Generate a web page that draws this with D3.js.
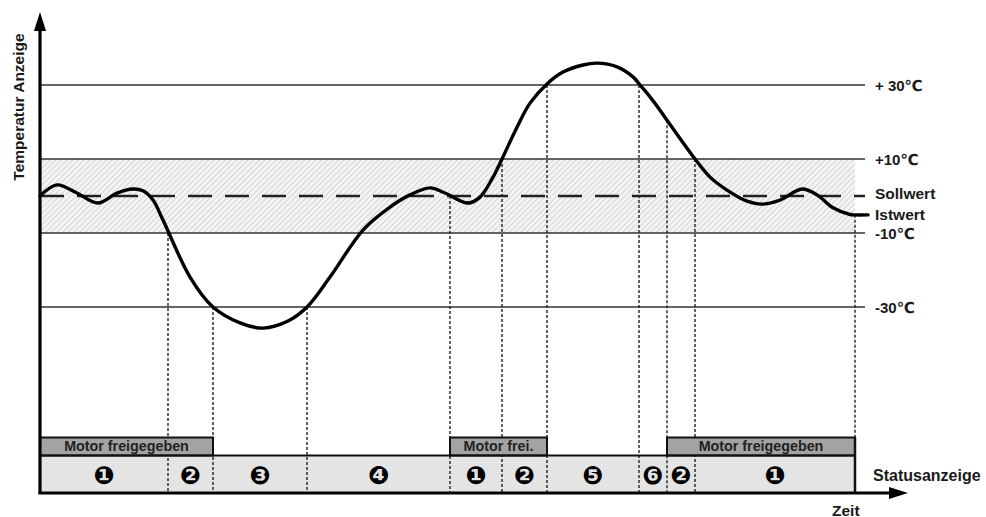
<!DOCTYPE html>
<html><head><meta charset="utf-8">
<script src="https://cdn.jsdelivr.net/npm/d3@7"></script>
<style>
html,body{margin:0;padding:0;background:#fff;}
text{font-family:"Liberation Sans",Arial,"DejaVu Sans",sans-serif;font-weight:bold;fill:#1a1a1a;}
</style></head>
<body><svg id="c" width="986" height="517"></svg>
<script>
// ---- data ----
// time in arbitrary units (0..163), temperature relative to setpoint in °C
const curveTime = [0, 3.4, 7.4, 11.6, 15.4, 18.6, 20.6, 22.6, 24.6, 30, 34.6, 40, 44.6, 49.6, 53.4, 58, 64.6, 70, 74, 78, 81, 85.6, 88, 90.6, 92.4, 95.4, 98, 101.4, 104.6, 108.6, 111.4, 115.4, 118.6, 120, 122, 124, 125.4, 131, 134, 137.4, 141.4, 144.4, 148, 152.4, 155.4, 158.6, 162, 163, 165.6];
const curveTemp = [0, 3.0, 0.8, -1.9, 0.8, 1.9, 1.4, -1.1, -6.5, -21.9, -30, -34.3, -35.7, -33.8, -30, -21.9, -9.2, -3.0, 0.3, 2.2, 0.8, -1.9, -0.3, 5.1, 10, 18.6, 25.1, 30.3, 33.5, 35.4, 35.9, 34.9, 32.2, 30, 26.8, 23.2, 20.5, 10, 5.1, 1.6, -1.4, -2.2, -1.1, 1.9, 0.3, -3.2, -5.0, -5.1, -5.1];
const levelValues = [30, 10, -10, -30];
const levelLabels = ["+ 30℃", "+10℃", "-10℃", "-30℃"];
const setpointLabel = "Sollwert";
const actualLabel = "Istwert";
const bandRange = [10, -10];
// phase boundaries (time) and the temperature where each boundary line starts
const boundaryTime = [25.6, 34.6, 53.4, 82, 92.4, 101.4, 119.8, 125.4, 131, 163];
const boundaryTemp = [-10, -30, -30, 0, 10, 30, 30, 20.5, 10, -5.1];
const phaseStart = [0, 25.6, 34.6, 53.4, 82, 92.4, 101.4, 119.8, 125.4, 131];
const phaseEnd = [25.6, 34.6, 53.4, 82, 92.4, 101.4, 119.8, 125.4, 131, 163];
const phaseLabels = ["❶", "❷", "❸", "❹", "❶", "❷", "❺", "❻", "❷", "❶"];
const motorStart = [0, 82, 125.4];
const motorEnd = [34.6, 101.4, 163];
const motorLabels = ["Motor freigegeben", "Motor frei.", "Motor freigegeben"];
const yAxisTitle = "Temperatur Anzeige";
const xAxisTitle = "Zeit";
const statusTitle = "Statusanzeige";

// ---- layout ----
const svg = d3.select("#c");
const x = d3.scaleLinear().domain([0, 163]).range([40, 855]);
const y = d3.scaleLinear().domain([-30, 30]).range([307, 85]);
const lineEnd = 865;
const motorTop = 437.5, motorBot = 455.5, statusBot = 492.5;

const defs = svg.append("defs");
const pat = defs.append("pattern").attr("id", "hatch").attr("patternUnits", "userSpaceOnUse")
  .attr("width", 4).attr("height", 4).attr("patternTransform", "rotate(45)");
pat.append("rect").attr("width", 4).attr("height", 4).attr("fill", "#f4f4f4");
pat.append("line").attr("x1", 0).attr("y1", 0).attr("x2", 0).attr("y2", 4)
  .attr("stroke", "#c4c4c4").attr("stroke-width", 1.3);

// hatched band
svg.append("rect").attr("x", x(0)).attr("y", y(bandRange[0]))
  .attr("width", x(163) - x(0)).attr("height", y(bandRange[1]) - y(bandRange[0]))
  .attr("fill", "url(#hatch)");

// level lines
svg.selectAll(".lvl").data(levelValues).enter().append("line")
  .attr("x1", x(0)).attr("x2", lineEnd).attr("y1", d => y(d)).attr("y2", d => y(d))
  .attr("stroke", "#333").attr("stroke-width", 1.6);

// setpoint dashed
svg.append("line").attr("x1", x(0)).attr("x2", lineEnd).attr("y1", y(0)).attr("y2", y(0))
  .attr("stroke", "#222").attr("stroke-width", 2.6).attr("stroke-dasharray", "24,13");

// status row
svg.append("rect").attr("x", x(0)).attr("y", motorBot).attr("width", x(163) - x(0))
  .attr("height", statusBot - motorBot).attr("fill", "#e4e4e4");

// boundary dotted lines
svg.selectAll(".bd").data(boundaryTime).enter().append("line")
  .attr("x1", d => x(d)).attr("x2", d => x(d))
  .attr("y1", (d, i) => y(boundaryTemp[i])).attr("y2", statusBot)
  .attr("stroke", "#222").attr("stroke-width", 1.4).attr("stroke-dasharray", "3,2");

// motor bars
svg.selectAll(".mb").data(motorStart).enter().append("rect")
  .attr("x", d => x(d)).attr("y", motorTop)
  .attr("width", (d, i) => x(motorEnd[i]) - x(d)).attr("height", motorBot - motorTop)
  .attr("fill", "#a3a3a3").attr("stroke", "#111").attr("stroke-width", 2);
svg.selectAll(".mt").data(motorLabels).enter().append("text")
  .attr("x", (d, i) => (x(motorStart[i]) + x(motorEnd[i])) / 2).attr("y", (motorTop + motorBot) / 2 + 1)
  .attr("text-anchor", "middle").attr("dominant-baseline", "middle")
  .style("font-size", "14.3px").style("fill", "#222").text(d => d);

// status row top border and right border
svg.append("line").attr("x1", x(0)).attr("x2", x(163)).attr("y1", motorBot).attr("y2", motorBot)
  .attr("stroke", "#111").attr("stroke-width", 2);
svg.append("line").attr("x1", x(163)).attr("x2", x(163)).attr("y1", motorTop).attr("y2", statusBot)
  .attr("stroke", "#111").attr("stroke-width", 2.5);

// phase labels
svg.selectAll(".ph").data(phaseLabels).enter().append("text")
  .attr("x", (d, i) => (x(phaseStart[i]) + x(phaseEnd[i])) / 2).attr("y", 475)
  .attr("text-anchor", "middle").attr("dominant-baseline", "central")
  .style("font-family", "'DejaVu Sans',sans-serif").style("font-size", "25px").style("fill", "#000")
  .text(d => d);

// curve
const pts = curveTime.map((t, i) => [t, curveTemp[i]]);
const line = d3.line().x(d => x(d[0])).y(d => y(d[1])).curve(d3.curveCatmullRom.alpha(0.5));
svg.append("path").attr("d", line(pts)).attr("fill", "none").attr("stroke", "#000")
  .attr("stroke-width", 3.4).attr("stroke-linecap", "round").attr("stroke-linejoin", "round");

// axes
svg.append("line").attr("x1", 40).attr("x2", 40).attr("y1", 26).attr("y2", 494)
  .attr("stroke", "#000").attr("stroke-width", 3.2);
svg.append("path").attr("d", "M40,12 L34,31 L46,31 Z").attr("fill", "#000");
svg.append("line").attr("x1", 38.5).attr("x2", 892).attr("y1", statusBot + 0.5).attr("y2", statusBot + 0.5)
  .attr("stroke", "#000").attr("stroke-width", 3.2);
svg.append("path").attr("d", `M908,${statusBot + 0.5} L889,${statusBot - 5.5} L889,${statusBot + 6.5} Z`).attr("fill", "#000");

// right labels
svg.selectAll(".ll").data(levelLabels).enter().append("text")
  .attr("x", 875).attr("y", (d, i) => y(levelValues[i]))
  .attr("dominant-baseline", "central").style("font-size", "15px").text(d => d);
svg.append("text").attr("x", 875).attr("y", 193).attr("dominant-baseline", "central")
  .style("font-size", "15.5px").text(setpointLabel);
svg.append("text").attr("x", 875).attr("y", 214).attr("dominant-baseline", "central")
  .style("font-size", "15.5px").text(actualLabel);
svg.append("text").attr("x", 873).attr("y", 475).attr("dominant-baseline", "central")
  .style("font-size", "16px").text(statusTitle);
svg.append("text").attr("x", 832).attr("y", 510).attr("dominant-baseline", "central")
  .style("font-size", "15.5px").text(xAxisTitle);
svg.append("text").attr("transform", "translate(18,107) rotate(-90)")
  .attr("text-anchor", "middle").attr("dominant-baseline", "central")
  .style("font-size", "15.5px").text(yAxisTitle);
</script></body></html>
